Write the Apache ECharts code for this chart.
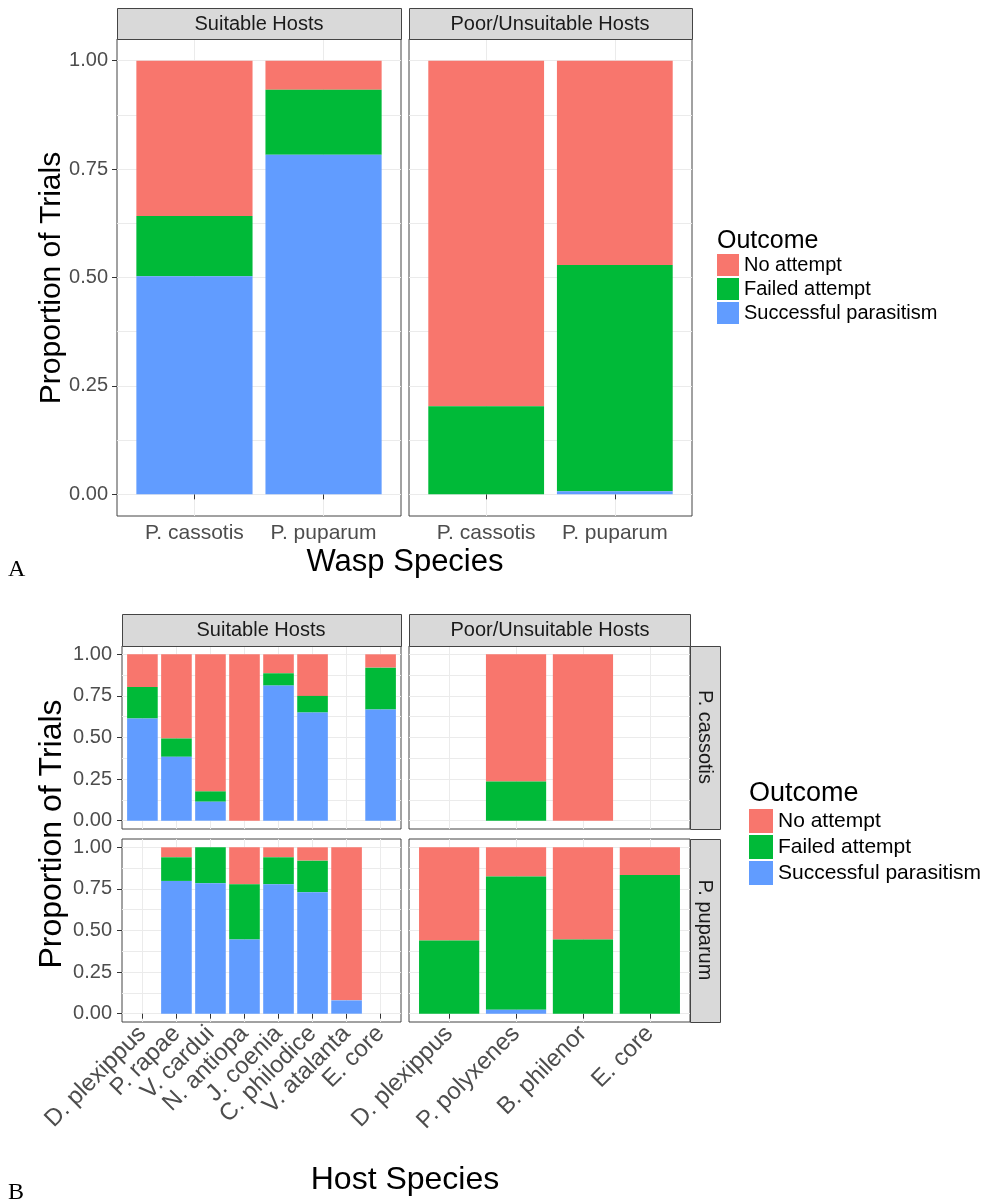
<!DOCTYPE html>
<html>
<head>
<meta charset="utf-8">
<title>Parasitism outcomes</title>
<script src="https://cdn.jsdelivr.net/npm/echarts@6/dist/echarts.min.js"></script>
<style>
html, body { margin: 0; padding: 0; background: #fff; }
#chart { width: 988px; height: 1203px; }
</style>
</head>
<body>
<div id="chart"></div>
<script>
// outcome levels, stacked top to bottom
var outcomes = ["No attempt", "Failed attempt", "Successful parasitism"];
var outcomeColors = ["#F8766D", "#00BA38", "#619CFF"];
var yMajor = [0, 0.25, 0.5, 0.75, 1];
var yGrid = [0, 0.125, 0.25, 0.375, 0.5, 0.625, 0.75, 0.875, 1];

// panel A
var waspSpecies = ["P. cassotis", "P. puparum"];
var aSuitSuccess = [0.503, 0.783];
var aSuitFailed = [0.139, 0.150];
var aSuitNone = [0.358, 0.067];
var aPoorSuccess = [0, 0.007];
var aPoorFailed = [0.203, 0.522];
var aPoorNone = [0.797, 0.471];

// panel B
var suitableHosts = ["D. plexippus", "P. rapae", "V. cardui", "N. antiopa", "J. coenia", "C. philodice", "V. atalanta", "E. core"];
var poorHosts = ["D. plexippus", "P. polyxenes", "B. philenor", "E. core"];
// P. cassotis row
var casSuitSuccess = [0.614, 0.384, 0.114, 0, 0.812, 0.65, null, 0.668];
var casSuitFailed = [0.19, 0.11, 0.062, 0, 0.074, 0.10, null, 0.252];
var casSuitNone = [0.196, 0.506, 0.824, 1, 0.114, 0.25, null, 0.08];
var casPoorSuccess = [null, 0, 0, null];
var casPoorFailed = [null, 0.236, 0, null];
var casPoorNone = [null, 0.764, 1, null];
// P. puparum row
var pupSuitSuccess = [null, 0.798, 0.784, 0.446, 0.778, 0.73, 0.08, null];
var pupSuitFailed = [null, 0.142, 0.216, 0.332, 0.162, 0.19, 0, null];
var pupSuitNone = [null, 0.06, 0, 0.222, 0.06, 0.08, 0.92, null];
var pupPoorSuccess = [0, 0.024, 0, 0];
var pupPoorFailed = [0.44, 0.80, 0.446, 0.834];
var pupPoorNone = [0.56, 0.176, 0.554, 0.166];

var FONT = '"Liberation Sans", Arial, sans-serif';

function renderBar(params, api) {
  var x = api.value(0);
  var lo = api.coord([x, api.value(1)]);
  var hi = api.coord([x, api.value(2)]);
  var w = api.size([0.9, 0])[0];
  return {
    type: "rect",
    shape: { x: lo[0] - w / 2, y: hi[1], width: w, height: lo[1] - hi[1] },
    style: { fill: api.visual("color") }
  };
}

var panels = [
  { box: [117, 39, 284, 477], cats: waspSpecies, s: aSuitSuccess, f: aSuitFailed, n: aSuitNone, showX: true, showY: true, xFont: 21, yFont: 20, rotate: 0, xMargin: 7, yMargin: 9 },
  { box: [409, 39, 283, 477], cats: waspSpecies, s: aPoorSuccess, f: aPoorFailed, n: aPoorNone, showX: true, showY: false, xFont: 21, yFont: 20, rotate: 0, xMargin: 7, yMargin: 9 },
  { box: [122, 646, 279, 183], cats: suitableHosts, s: casSuitSuccess, f: casSuitFailed, n: casSuitNone, showX: false, showY: true, xFont: 24, yFont: 20, rotate: 45, xMargin: 8, yMargin: 10 },
  { box: [409, 646, 281, 183], cats: poorHosts, s: casPoorSuccess, f: casPoorFailed, n: casPoorNone, showX: false, showY: false, xFont: 24, yFont: 20, rotate: 45, xMargin: 8, yMargin: 10 },
  { box: [122, 839, 279, 183], cats: suitableHosts, s: pupSuitSuccess, f: pupSuitFailed, n: pupSuitNone, showX: true, showY: true, xFont: 24, yFont: 20, rotate: 45, xMargin: 8, yMargin: 10 },
  { box: [409, 839, 281, 183], cats: poorHosts, s: pupPoorSuccess, f: pupPoorFailed, n: pupPoorNone, showX: true, showY: false, xFont: 24, yFont: 20, rotate: 45, xMargin: 8, yMargin: 10 }
];

var grids = [], xAxes = [], yAxes = [], series = [];

panels.forEach(function (p, i) {
  var ticks = p.cats.map(function (c, k) { return k + 1; });
  grids.push({
    left: p.box[0], top: p.box[1], width: p.box[2], height: p.box[3],
    show: true, backgroundColor: "#fff", borderColor: "#444", borderWidth: 1,
    containLabel: false, outerBoundsMode: "none"
  });
  var xLabel = {
    show: p.showX, customValues: ticks, rotate: p.rotate, margin: p.xMargin,
    showMinLabel: true, showMaxLabel: true, hideOverlap: false,
    fontSize: p.xFont, fontFamily: FONT, color: "#4D4D4D",
    formatter: function (v) { return p.cats[Math.round(v) - 1]; }
  };
  if (p.rotate) { xLabel.align = "right"; xLabel.verticalAlign = "middle"; }
  xAxes.push({
    gridIndex: i, type: "value", min: 0.4, max: p.cats.length + 0.6,
    axisLine: { show: false },
    axisTick: { show: p.showX, customValues: ticks, length: 5, lineStyle: { color: "#333" } },
    axisLabel: xLabel,
    splitLine: { show: true, lineStyle: { color: "#EBEBEB", width: 1 } }
  });
  // grid lines (major + minor)
  yAxes.push({
    gridIndex: i, type: "value", position: "left", min: -0.05, max: 1.05,
    axisLine: { show: false },
    axisTick: { show: false, customValues: yGrid },
    axisLabel: { show: false },
    splitLine: { show: true, lineStyle: { color: "#EBEBEB", width: 1 } }
  });
  // ticks + labels
  yAxes.push({
    gridIndex: i, type: "value", position: "left", min: -0.05, max: 1.05,
    axisLine: { show: false },
    axisTick: { show: p.showY, customValues: yMajor, length: 5, lineStyle: { color: "#333" } },
    axisLabel: {
      show: p.showY, customValues: yMajor, margin: p.yMargin,
      showMinLabel: true, showMaxLabel: true,
      fontSize: p.yFont, fontFamily: FONT, color: "#4D4D4D",
      formatter: function (v) { return v.toFixed(2); }
    },
    splitLine: { show: false }
  });

  outcomes.forEach(function (name, o) {
    var data = [];
    p.cats.forEach(function (c, k) {
      if (p.s[k] == null) return;
      var s = p.s[k], f = p.f[k], n = p.n[k];
      var seg = [[s + f, s + f + n], [s, s + f], [0, s]][o];
      data.push([k + 1, seg[0], seg[1]]);
    });
    series.push({
      type: "custom", name: name, xAxisIndex: i, yAxisIndex: 2 * i,
      renderItem: renderBar, itemStyle: { color: outcomeColors[o] },
      encode: { x: 0, y: [1, 2] }, data: data, silent: true, animation: false
    });
  });
});

function strip(x, y, w, h) {
  return { type: "rect", z: 20, shape: { x: x + 0.5, y: y + 0.5, width: w, height: h },
    style: { fill: "#D9D9D9", stroke: "#444", lineWidth: 1 } };
}
function label(text, x, y, size, opts) {
  opts = opts || {};
  return {
    type: "text", z: 30, x: x, y: y, rotation: opts.rot || 0,
    style: {
      text: text, fill: opts.color || "#000", fontSize: size,
      fontFamily: opts.family || FONT,
      align: opts.align || "center", verticalAlign: "middle"
    }
  };
}

var graphics = [
  strip(117, 8, 284, 31), strip(409, 8, 283, 31),
  label("Suitable Hosts", 259, 24, 20, { color: "#1A1A1A" }),
  label("Poor/Unsuitable Hosts", 550, 24, 20, { color: "#1A1A1A" }),
  label("Proportion of Trials", 52, 278, 30, { rot: Math.PI / 2 }),
  label("Wasp Species", 405, 562, 31),
  label("A", 8, 570, 24, { align: "left", family: '"Liberation Serif", "Times New Roman", serif' }),
  label("Outcome", 717, 241, 25, { align: "left" }),

  strip(122, 614, 279, 32), strip(409, 614, 281, 32),
  strip(690, 646, 30, 183), strip(690, 839, 30, 183),
  label("Suitable Hosts", 261, 630, 20, { color: "#1A1A1A" }),
  label("Poor/Unsuitable Hosts", 550, 630, 20, { color: "#1A1A1A" }),
  label("P. cassotis", 705, 737, 20, { color: "#1A1A1A", rot: -Math.PI / 2 }),
  label("P. puparum", 705, 930, 20, { color: "#1A1A1A", rot: -Math.PI / 2 }),
  label("Proportion of Trials", 52, 834, 32, { rot: Math.PI / 2 }),
  label("Host Species", 405, 1180, 32),
  label("B", 8, 1193, 24, { align: "left", family: '"Liberation Serif", "Times New Roman", serif' }),
  label("Outcome", 749, 794, 27, { align: "left" })
];

var legendBase = {
  orient: "vertical", icon: "rect", padding: 0, selectedMode: false,
  data: outcomes
};

var chart = echarts.init(document.getElementById("chart"));
chart.setOption({
  backgroundColor: "#fff",
  animation: false,
  textStyle: { fontFamily: FONT },
  grid: grids,
  xAxis: xAxes,
  yAxis: yAxes,
  legend: [
    Object.assign({}, legendBase, { left: 717, top: 254, itemWidth: 22, itemHeight: 22, itemGap: 2,
      textStyle: { fontSize: 20, color: "#000", fontFamily: FONT } }),
    Object.assign({}, legendBase, { left: 749, top: 809, itemWidth: 24, itemHeight: 24, itemGap: 2,
      textStyle: { fontSize: 21, color: "#000", fontFamily: FONT } })
  ],
  graphic: graphics,
  series: series
});
</script>
</body>
</html>
